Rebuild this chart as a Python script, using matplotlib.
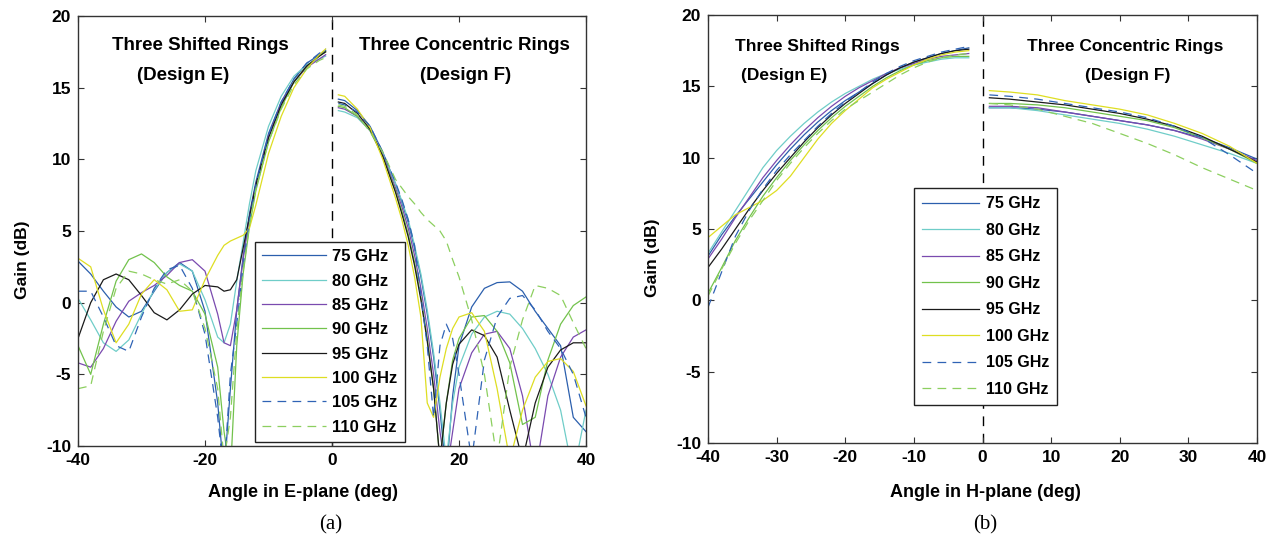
import matplotlib
matplotlib.use("Agg")
import matplotlib.pyplot as plt
import numpy as np

plt.rcParams["font.family"] = ["Liberation Sans", "DejaVu Sans"]
plt.rcParams["font.weight"] = "bold"
plt.rcParams["axes.labelweight"] = "bold"
plt.rcParams["axes.unicode_minus"] = False

# ── Series / legend ──────────────────────────────────────────────────────────
FREQS = ["75 GHz", "80 GHz", "85 GHz", "90 GHz", "95 GHz", "100 GHz", "105 GHz", "110 GHz"]
COLORS = ["#2b5fad", "#6fcdc8", "#7a4aaf", "#72c24c", "#1a1a1a", "#dede22", "#2f63b5", "#8ccf5f"]
DASHED = [False, False, False, False, False, False, True, True]

# ── (a) E-plane, Design E (x < 0) ────────────────────────────────────────────
E_ANG_E = [-40, -38, -36, -34, -32, -30, -28, -26, -24, -22, -20, -18, -17, -16, -15, -14, -13, -12, -10, -8, -6, -4, -2, -1]
E_GAIN_E = {
    "75 GHz":  [2.9, 2.0, 0.8, -0.3, -1.0, -0.6, 0.8, 2.1, 2.8, 2.2, -0.6, -7.0, -12.0, -6.0, -0.5, 3.2, 6.2, 8.4, 11.8, 14.0, 15.6, 16.7, 17.3, 17.6],
    "80 GHz":  [0.3, -1.2, -2.8, -3.4, -2.6, -0.8, 0.9, 2.1, 2.7, 2.2, 0.2, -2.4, -2.8, -1.5, 1.5, 4.2, 6.9, 9.2, 12.3, 14.4, 15.8, 16.6, 17.0, 17.2],
    "85 GHz":  [-4.2, -4.5, -3.2, -1.3, 0.1, 0.7, 1.2, 1.9, 2.8, 3.0, 2.2, -0.8, -2.8, -3.0, -0.5, 3.0, 6.0, 8.2, 11.6, 13.9, 15.4, 16.4, 17.0, 17.3],
    "90 GHz":  [-3.0, -5.0, -1.5, 1.5, 3.0, 3.4, 2.8, 1.8, 1.2, 0.8, -0.8, -4.5, -9.0, -12.0, -3.0, 2.0, 5.3, 7.8, 11.2, 13.6, 15.4, 16.5, 17.2, 17.5],
    "95 GHz":  [-2.5, 0.0, 1.6, 2.0, 1.6, 0.5, -0.7, -1.2, -0.5, 0.6, 1.2, 1.1, 0.8, 0.9, 1.6, 3.8, 6.0, 8.2, 11.5, 13.8, 15.4, 16.5, 17.2, 17.5],
    "100 GHz": [3.1, 2.5, -0.5, -2.8, -1.5, 0.6, 1.6, 0.9, -0.6, -0.5, 1.6, 3.3, 4.0, 4.3, 4.5, 4.7, 5.2, 6.8, 10.4, 13.0, 15.0, 16.3, 17.3, 17.7],
    "105 GHz": [0.8, 0.8, -1.0, -3.0, -3.4, -1.0, 1.0, 2.3, 2.6, 1.0, -2.2, -8.0, -12.0, -5.0, -1.5, 2.6, 5.8, 8.2, 11.7, 14.0, 15.6, 16.7, 17.4, 17.7],
    "110 GHz": [-6.0, -5.8, -2.0, 1.0, 2.2, 2.0, 1.6, 1.3, 1.6, 0.8, -1.8, -6.0, -11.0, -8.0, -2.0, 2.2, 5.4, 7.9, 11.2, 13.5, 15.2, 16.3, 16.9, 17.1],
}

# ── (a) E-plane, Design F (x > 0) ────────────────────────────────────────────
E_ANG_F = [1, 2, 4, 6, 8, 10, 11, 12, 13, 14, 15, 16, 17, 18, 19, 20, 22, 24, 26, 28, 30, 32, 34, 36, 38, 40]
E_GAIN_F = {
    "75 GHz":  [14.2, 14.1, 13.4, 12.3, 10.5, 8.3, 7.0, 5.6, 3.8, 1.8, -0.8, -3.8, -7.5, -12.0, -6.5, -3.0, -0.3, 1.0, 1.4, 1.45, 0.8, -0.6, -1.8, -3.0, -8.0, -9.0],
    "80 GHz":  [13.4, 13.3, 12.9, 12.0, 10.4, 8.3, 7.1, 5.8, 4.0, 2.0, -0.5, -3.5, -7.0, -11.0, -7.0, -4.5, -2.2, -1.0, -0.6, -0.8, -1.8, -3.2, -5.0, -7.5, -12.0, -7.5],
    "85 GHz":  [13.6, 13.5, 13.0, 12.0, 10.3, 8.0, 6.7, 5.2, 3.3, 1.0, -1.8, -5.0, -9.0, -12.0, -9.0, -6.0, -3.5, -2.2, -2.0, -3.2, -6.5, -12.0, -6.5, -3.8, -2.4, -1.9],
    "90 GHz":  [13.7, 13.6, 13.0, 12.0, 10.2, 7.8, 6.4, 4.8, 2.8, 0.4, -2.5, -6.0, -11.0, -7.0, -4.0, -2.5, -1.0, -0.9, -2.0, -4.2, -8.5, -8.0, -4.0, -1.5, -0.2, 0.4],
    "95 GHz":  [14.0, 13.9, 13.2, 12.1, 10.2, 7.7, 6.2, 4.6, 2.6, 0.2, -2.7, -6.0, -11.0, -7.0, -4.3, -2.9, -1.9, -2.3, -3.8, -7.5, -11.0, -7.0, -4.5, -3.3, -2.8, -2.8],
    "100 GHz": [14.5, 14.4, 13.5, 12.2, 10.0, 7.3, 5.8, 4.0, 1.8, -1.0, -7.0, -8.0, -5.2, -3.2, -1.8, -1.0, -0.7, -2.0, -6.0, -11.0, -7.5, -5.2, -4.1, -3.9, -4.8, -7.2],
    "105 GHz": [13.9, 13.8, 13.3, 12.3, 10.5, 8.4, 7.2, 5.8, 4.0, 0.5, -3.0, -8.0, -3.0, -1.5, -2.5, -5.0, -11.0, -4.0, -1.0, 0.3, 0.5, -0.5, -2.0, -3.2, -5.0, -8.0],
    "110 GHz": [13.8, 13.7, 13.1, 11.9, 10.5, 8.6, 8.0, 7.4, 6.9, 6.3, 5.8, 5.4, 5.0, 4.3, 3.0, 1.8, -1.2, -5.0, -11.0, -4.5, -1.2, 1.2, 1.0, 0.5, -1.4, -3.2],
}

# ── (b) H-plane, Design E (x < 0) ────────────────────────────────────────────
H_ANG_E = [-40, -38, -36, -34, -32, -30, -28, -26, -24, -22, -20, -18, -16, -14, -12, -10, -8, -6, -4, -2]
H_GAIN_E = {
    "75 GHz":  [3.1, 4.6, 5.9, 7.1, 8.3, 9.5, 10.6, 11.6, 12.5, 13.3, 14.0, 14.6, 15.2, 15.8, 16.3, 16.7, 17.0, 17.3, 17.5, 17.7],
    "80 GHz":  [3.3, 4.8, 6.3, 7.8, 9.3, 10.5, 11.5, 12.4, 13.2, 13.9, 14.5, 15.0, 15.5, 15.9, 16.2, 16.5, 16.7, 16.9, 17.0, 17.0],
    "85 GHz":  [2.9, 4.3, 5.8, 7.2, 8.6, 9.8, 10.9, 11.9, 12.8, 13.6, 14.3, 14.9, 15.4, 15.9, 16.3, 16.6, 16.9, 17.1, 17.2, 17.3],
    "90 GHz":  [0.5, 2.3, 4.2, 5.8, 7.3, 8.6, 9.8, 10.9, 11.9, 12.8, 13.6, 14.3, 15.0, 15.6, 16.1, 16.5, 16.8, 17.0, 17.1, 17.1],
    "95 GHz":  [2.3, 3.6, 5.0, 6.4, 7.7, 8.9, 10.0, 11.1, 12.1, 13.0, 13.8, 14.5, 15.2, 15.8, 16.3, 16.7, 17.0, 17.3, 17.5, 17.6],
    "100 GHz": [4.4, 5.2, 6.0, 6.5, 7.0, 7.7, 8.7, 10.0, 11.3, 12.4, 13.3, 14.1, 14.9, 15.5, 16.0, 16.5, 16.9, 17.2, 17.4, 17.5],
    "105 GHz": [-0.5, 2.0, 4.5, 6.3, 7.8, 9.1, 10.2, 11.2, 12.2, 13.1, 13.9, 14.6, 15.3, 15.9, 16.4, 16.8, 17.1, 17.4, 17.6, 17.8],
    "110 GHz": [0.3, 2.2, 4.0, 5.6, 7.0, 8.4, 9.6, 10.7, 11.7, 12.6, 13.4, 14.0, 14.6, 15.2, 15.8, 16.3, 16.7, 17.0, 17.2, 17.3],
}

# ── (b) H-plane, Design F (x > 0) ────────────────────────────────────────────
H_ANG_F = [1, 4, 8, 12, 16, 20, 24, 28, 32, 36, 40]
H_GAIN_F = {
    "75 GHz":  [13.5, 13.5, 13.4, 13.2, 12.9, 12.6, 12.3, 11.9, 11.4, 10.7, 9.9],
    "80 GHz":  [13.5, 13.5, 13.3, 13.0, 12.7, 12.4, 12.0, 11.5, 10.9, 10.3, 9.6],
    "85 GHz":  [13.6, 13.6, 13.5, 13.2, 12.9, 12.6, 12.3, 11.9, 11.3, 10.6, 9.8],
    "90 GHz":  [13.8, 13.8, 13.7, 13.5, 13.2, 12.9, 12.6, 12.1, 11.4, 10.6, 9.6],
    "95 GHz":  [14.2, 14.1, 13.9, 13.7, 13.4, 13.1, 12.7, 12.2, 11.5, 10.6, 9.7],
    "100 GHz": [14.7, 14.6, 14.4, 14.0, 13.7, 13.4, 13.0, 12.4, 11.7, 10.8, 9.6],
    "105 GHz": [14.4, 14.3, 14.1, 13.8, 13.5, 13.2, 12.8, 12.2, 11.4, 10.2, 8.9],
    "110 GHz": [13.8, 13.7, 13.4, 12.9, 12.4, 11.7, 11.0, 10.2, 9.3, 8.5, 7.7],
}

W, H = 1273, 544


def px(x, y):
    return x / W, 1 - y / H


def draw_panel(ax, ang_e, gain_e, ang_f, gain_f):
    ax.axvline(0, color="black", linewidth=1.0, dashes=(7, 5.5), zorder=1)
    for name, col, dsh in zip(FREQS, COLORS, DASHED):
        kw = dict(color=col, linewidth=0.9)
        if dsh:
            kw["dashes"] = (7, 5)
        ax.plot(ang_e, gain_e[name], label=name, **kw)
        ax.plot(ang_f, gain_f[name], **kw)
    ax.set_xlim(-40, 40)
    ax.set_ylim(-10, 20)
    ax.set_yticks(range(-10, 21, 5))
    ax.tick_params(direction="in", top=True, right=True, length=4, width=0.8,
                   labelsize=12.5, pad=5, color="#333333")
    for sp in ax.spines.values():
        sp.set_color("#333333")
        sp.set_linewidth(1.0)


fig = plt.figure(figsize=(W / 100, H / 100), dpi=100)

# ── Panel (a) ───────────────────────────────────────────────────────────────
ax1 = fig.add_axes([78 / W, (H - 446) / H, 508 / W, 430 / H])
draw_panel(ax1, E_ANG_E, E_GAIN_E, E_ANG_F, E_GAIN_F)
ax1.set_xticks([-40, -20, 0, 20, 40])
ax1.set_xlabel("Angle in E-plane (deg)", fontsize=13)
ax1.set_ylabel("Gain (dB)", fontsize=12.5)
ax1.xaxis.set_label_coords(0.443, -0.088)
ax1.yaxis.set_label_coords(-0.094, 0.433)
leg1 = ax1.legend(loc="lower left", bbox_to_anchor=(0.348, 0.009), borderaxespad=0,
                  fontsize=12, handlelength=3.8, labelspacing=0.56, borderpad=0.45,
                  handletextpad=0.4, fancybox=False, framealpha=1, edgecolor="#222222")
leg1.get_frame().set_linewidth(1.0)

fig.text(*px(200, 46), "Three Shifted Rings", ha="center", va="center", fontsize=13.5)
fig.text(*px(183, 76), "(Design E)", ha="center", va="center", fontsize=13.5)
fig.text(*px(464, 46), "Three Concentric Rings", ha="center", va="center", fontsize=13.5)
fig.text(*px(466, 76), "(Design F)", ha="center", va="center", fontsize=13.5)

# ── Panel (b) ───────────────────────────────────────────────────────────────
ax2 = fig.add_axes([708 / W, (H - 443) / H, 549 / W, 428 / H])
draw_panel(ax2, H_ANG_E, H_GAIN_E, H_ANG_F, H_GAIN_F)
ax2.set_xticks(range(-40, 41, 10))
ax2.set_xlabel("Angle in H-plane (deg)", fontsize=13)
ax2.set_ylabel("Gain (dB)", fontsize=12.5)
ax2.xaxis.set_label_coords(0.505, -0.096)
ax2.yaxis.set_label_coords(-0.087, 0.432)
leg2 = ax2.legend(loc="lower left", bbox_to_anchor=(0.375, 0.089), borderaxespad=0,
                  fontsize=11.5, handlelength=3.6, labelspacing=0.72, borderpad=0.5,
                  handletextpad=0.4, fancybox=False, framealpha=1, edgecolor="#222222")
leg2.get_frame().set_linewidth(1.0)

fig.text(*px(817, 46), "Three Shifted Rings", ha="center", va="center", fontsize=12.5)
fig.text(*px(784, 75), "(Design E)", ha="center", va="center", fontsize=12.5)
fig.text(*px(1125, 46), "Three Concentric Rings", ha="center", va="center", fontsize=12.5)
fig.text(*px(1128, 75), "(Design F)", ha="center", va="center", fontsize=12.5)

# ── Captions ────────────────────────────────────────────────────────────────
fig.text(*px(331, 525), "(a)", ha="center", va="center", fontsize=15,
         family="Liberation Serif", fontweight="normal")
fig.text(*px(985, 525), "(b)", ha="center", va="center", fontsize=15,
         family="Liberation Serif", fontweight="normal")

fig.savefig("out.png", dpi=100)
